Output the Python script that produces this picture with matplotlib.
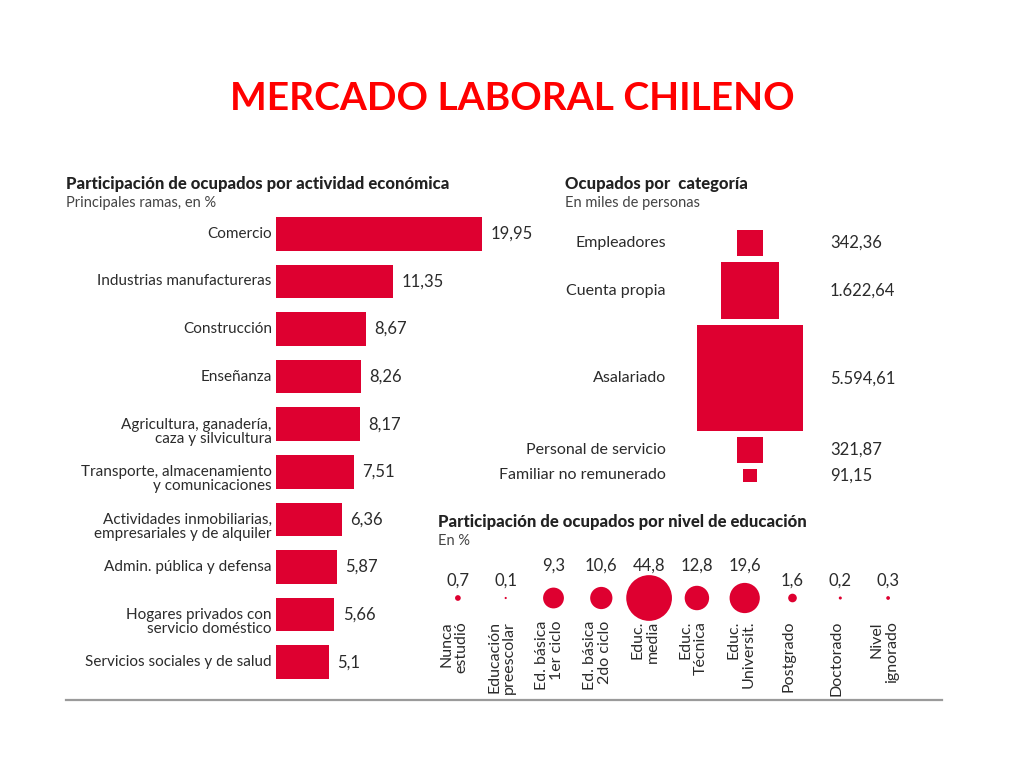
import numpy as np
import matplotlib
matplotlib.use("Agg")
import matplotlib.pyplot as plt

plt.rcParams['font.family'] = ['Lato', 'DejaVu Sans']

# ---------------- data ----------------
activ_labels = ["Comercio", "Industrias manufactureras", "Construcción", "Enseñanza",
                "Agricultura, ganadería,\ncaza y silvicultura",
                "Transporte, almacenamiento\ny comunicaciones",
                "Actividades inmobiliarias,\nempresariales y de alquiler",
                "Admin. pública y defensa",
                "Hogares privados con\nservicio doméstico",
                "Servicios sociales y de salud"]
activ_values = [19.95, 11.35, 8.67, 8.26, 8.17, 7.51, 6.36, 5.87, 5.66, 5.1]
activ_text = ["19,95", "11,35", "8,67", "8,26", "8,17", "7,51", "6,36", "5,87", "5,66", "5,1"]

cat_labels = ["Empleadores", "Cuenta propia", "Asalariado", "Personal de servicio",
              "Familiar no remunerado"]
cat_values = [342.36, 1622.64, 5594.61, 321.87, 91.15]
cat_text = ["342,36", "1.622,64", "5.594,61", "321,87", "91,15"]

edu_labels = ["Nunca\nestudió", "Educación\npreescolar", "Ed. básica\n1er ciclo",
              "Ed. básica\n2do ciclo", "Educ.\nmedia", "Educ.\nTécnica",
              "Educ.\nUniversit.", "Postgrado", "Doctorado", "Nivel\nignorado"]
edu_values = [0.7, 0.1, 9.3, 10.6, 44.8, 12.8, 19.6, 1.6, 0.2, 0.3]
edu_text = ["0,7", "0,1", "9,3", "10,6", "44,8", "12,8", "19,6", "1,6", "0,2", "0,3"]

RED = "#DE0030"
TXT = "#2b2b2b"
W, H = 1024, 768

fig = plt.figure(figsize=(10.24, 7.68), dpi=100)
fig.patch.set_facecolor("white")

def px_axes(x0, y0, x1, y1):
    return fig.add_axes([x0 / W, 1 - y1 / H, (x1 - x0) / W, (y1 - y0) / H])

def ftext(x, y, s, **kw):
    fig.text(x / W, 1 - y / H, s, **kw)

# title
ftext(512, 98, "MERCADO LABORAL CHILENO", ha="center", va="center",
      fontsize=28, fontweight="bold", color="#FF0000")

# ---------------- left: bar chart ----------------
ftext(66, 184, "Participación de ocupados por actividad económica", ha="left",
      va="center", fontsize=12, fontweight="black", color="#222222")
ftext(66, 203, "Principales ramas, en %", ha="left", va="center",
      fontsize=10.5, color="#444444")

ax = px_axes(276, 210, 540, 686)
ypos = np.arange(len(activ_values))
ax.barh(ypos, activ_values, height=0.71, color=RED, edgecolor="none")
ax.set_xlim(0, 264 / 10.33)
ax.set_ylim(len(activ_values) - 0.5, -0.5)
ax.axis("off")
for y, v, t, lab in zip(ypos, activ_values, activ_text, activ_labels):
    ax.annotate(t, (v, y), xytext=(6, 0), textcoords="offset points",
                ha="left", va="center", fontsize=12, color=TXT)
    nl = lab.count("\n")
    ax.annotate(lab, (0, y), xytext=(-3, -nl * 5.4), textcoords="offset points",
                ha="right", va="center", fontsize=11, color=TXT,
                linespacing=0.98, multialignment="right")

# ---------------- middle: squares ----------------
ftext(565, 184, "Ocupados por  categoría", ha="left", va="center",
      fontsize=12, fontweight="black", color="#222222")
ftext(565, 203, "En miles de personas", ha="left", va="center",
      fontsize=10.5, color="#444444")

axs = px_axes(680, 225, 820, 490)
axs.set_xlim(-70, 70)
axs.set_ylim(265, 0)
axs.axis("off")
k = 1.417
gap = 6.0
sides = [k * np.sqrt(v) for v in cat_values]
tops = []
t0 = 5.0
for s in sides:
    tops.append(t0)
    t0 += s + gap
axs.bar([0] * len(sides), sides, bottom=tops, width=sides, color=RED,
        edgecolor="none", align="center")
for s, tp, lab, t in zip(sides, tops, cat_labels, cat_text):
    yc = tp + s / 2
    axs.text(-84, yc, lab, ha="right", va="center", fontsize=11.5, color=TXT,
             clip_on=False)
    axs.text(80, yc, t, ha="left", va="center", fontsize=12, color=TXT,
             clip_on=False)

# ---------------- bottom right: bubbles ----------------
ftext(438, 522, "Participación de ocupados por nivel de educación", ha="left",
      va="center", fontsize=12, fontweight="black", color="#222222")
ftext(438, 541, "En %", ha="left", va="center", fontsize=10.5, color="#444444")

axb = px_axes(434, 555, 912, 700)
axb.set_xlim(-0.5, len(edu_values) - 0.5)
axb.set_ylim(145, 0)
axb.axis("off")
xb = np.arange(len(edu_values))
axb.scatter(xb, [43] * len(xb), s=[24.2 * v for v in edu_values], color=RED,
            edgecolors="none")
col_px = 478 / len(edu_values)
for x, v, t, lab in zip(xb, edu_values, edu_text, edu_labels):
    yl = 11 if v > 5 else 26
    axb.text(x, yl, t, ha="center", va="center", fontsize=12, color=TXT)
    lines = lab.split("\n")
    n = len(lines)
    for i, ln in enumerate(lines):
        dx = (i - (n - 1) / 2) * 15.0 / col_px - 4.0 / col_px
        axb.text(x + dx, 66, ln, ha="center", va="top", rotation=90,
                 fontsize=11.5, color=TXT)

# bottom rule
line_ax = px_axes(0, 0, W, H)
line_ax.set_xlim(0, W)
line_ax.set_ylim(H, 0)
line_ax.axis("off")
line_ax.plot([66, 942], [700, 700], color="#9a9a9a", lw=1.6)

fig.savefig("out.png", dpi=100, facecolor="white")
